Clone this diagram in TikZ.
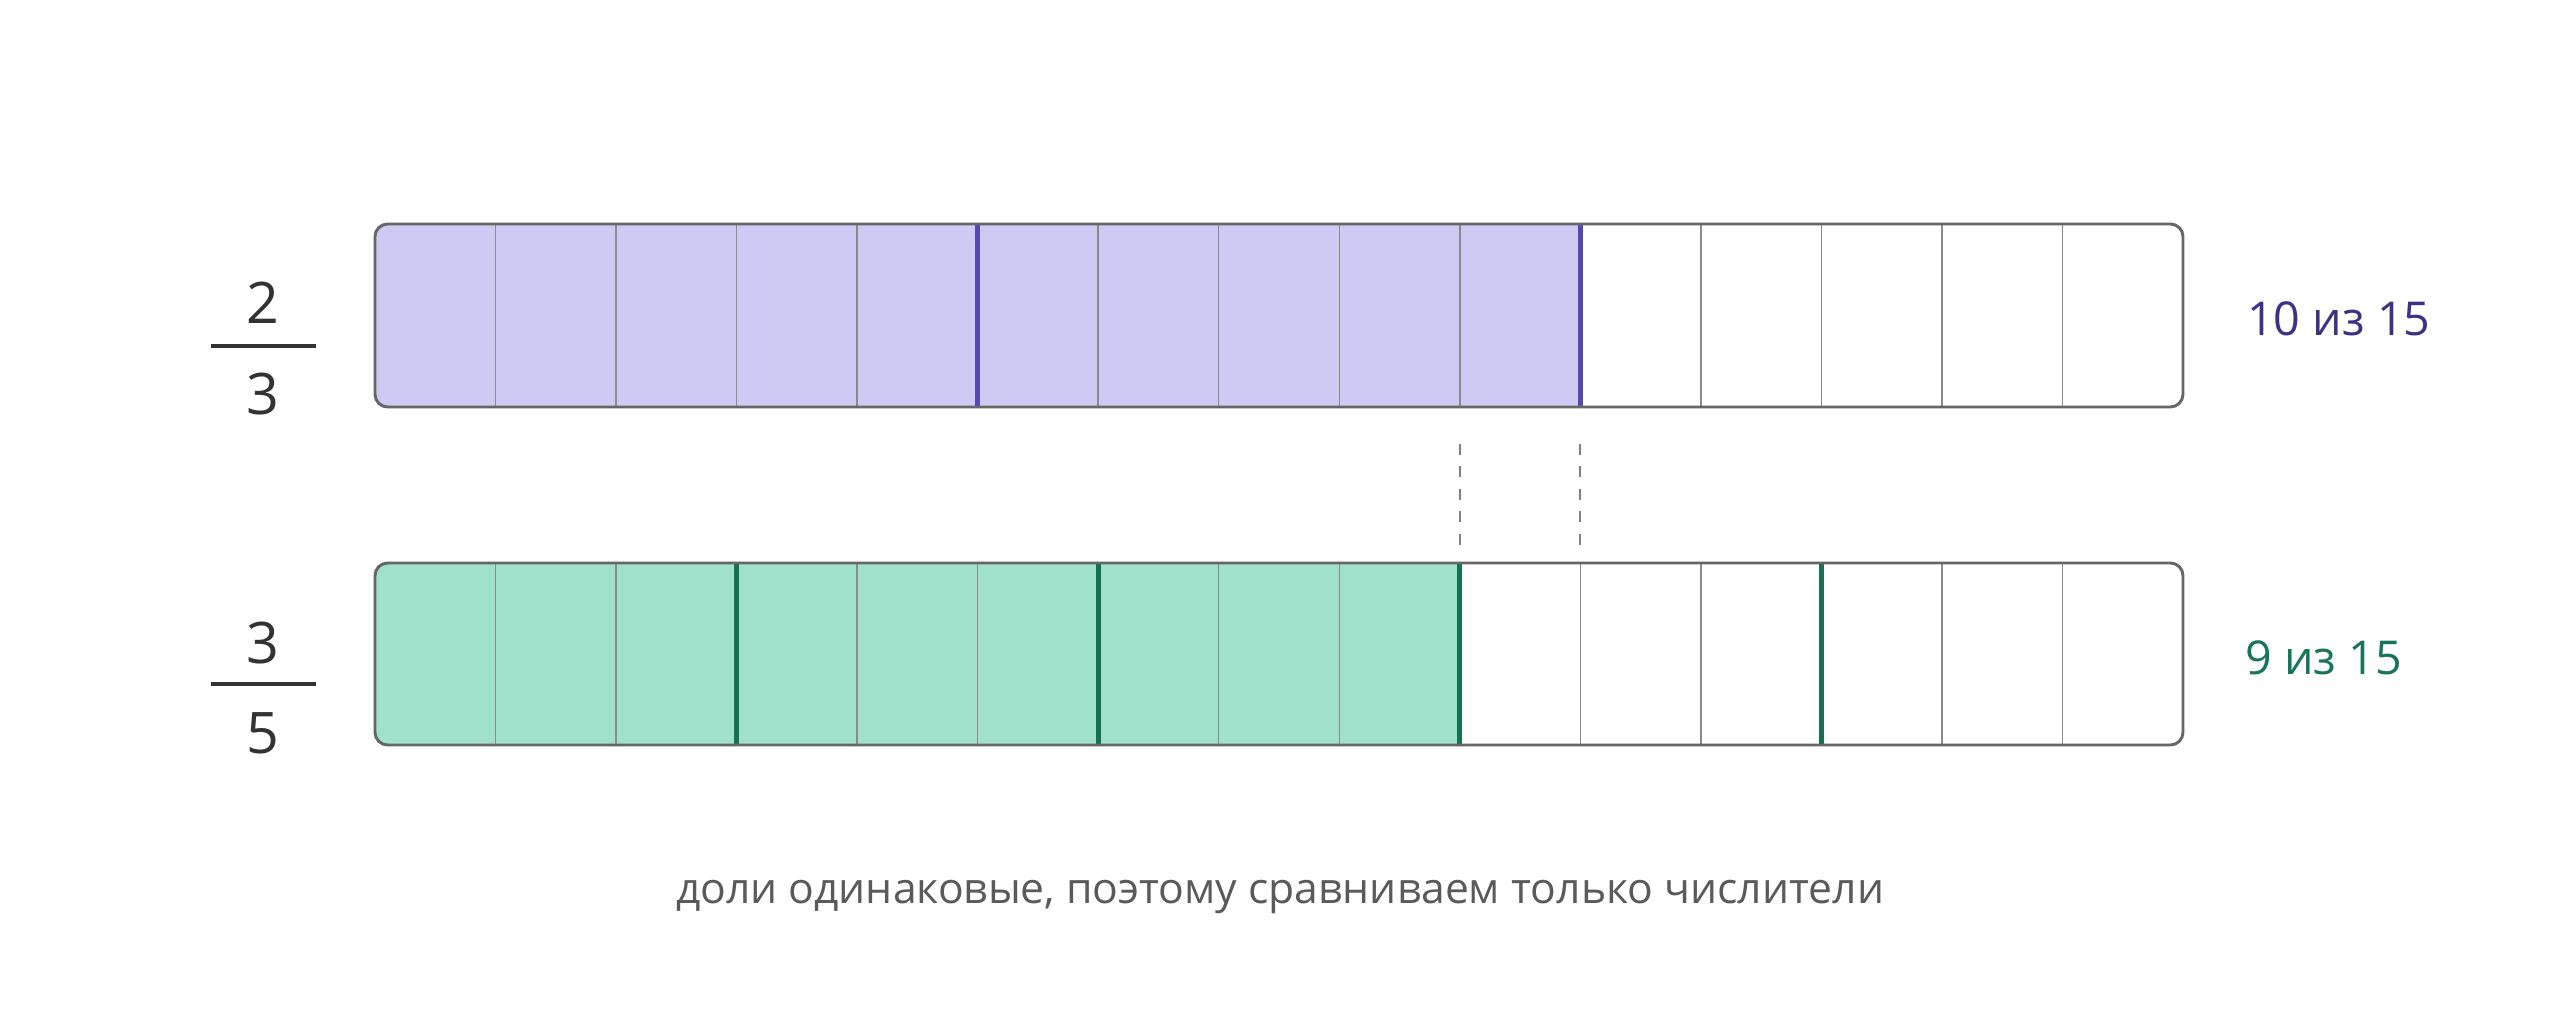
\documentclass[tikz,border=0pt]{standalone}
\usepackage{fontspec}
\setmainfont{Open Sans}
\definecolor{framegray}{HTML}{666666}
\definecolor{divgray}{HTML}{8A8A8A}
\definecolor{purplefill}{HTML}{CDCBF3}
\definecolor{greenfill}{HTML}{A0E1CB}
\definecolor{purpleline}{HTML}{5548B2}
\definecolor{greenline}{HTML}{17704F}
\definecolor{purpletext}{HTML}{3D3187}
\definecolor{greentext}{HTML}{17755A}
\definecolor{darktext}{HTML}{333333}
\definecolor{capgray}{HTML}{5A5A5A}
\begin{document}
\begin{tikzpicture}[x=0.75pt,y=-0.75pt,
  frame/.style={draw=framegray,line width=2.2pt,rounded corners=9.5pt},
  divider/.style={draw=divgray,line width=1.1pt},
  purplediv/.style={draw=purpleline,line width=3.6pt},
  greendiv/.style={draw=greenline,line width=3.6pt},
  guide/.style={draw=gray,line width=1.5pt,dash pattern=on 8.25pt off 8.6pt},
  digit/.style={inner sep=0pt,anchor=base,text=darktext,font=\fontsize{43}{50}\selectfont},
  fracbar/.style={draw=darktext,line width=3.3pt},
  countlabel/.style={inner sep=0pt,anchor=base west,font=\fontsize{35}{42}\selectfont},
  caption/.style={inner sep=0pt,anchor=base,text=capgray,font=\fontsize{32}{38}\selectfont}
]
\useasboundingbox (0,0) rectangle (2560,1016);
\def\cw{120.533}
% ---- top bar (2/3) ----
\begin{scope}
  \clip[rounded corners=9.5pt] (375,224) rectangle (2183,407);
  \fill[purplefill] (375,224) rectangle (1580,407);
\end{scope}
\fill[purplefill] (377,226) rectangle (420,405);
\foreach \i in {1,...,14} {
  \draw[divider] ({375+\i*\cw},224) -- ({375+\i*\cw},407);
}
\foreach \i in {5,10} {
  \draw[purplediv] ({375+\i*\cw},224) -- ({375+\i*\cw},407);
}
\draw[frame] (375,224) rectangle (2183,407);
% ---- bottom bar (3/5) ----
\begin{scope}
  \clip[rounded corners=9.5pt] (375,563) rectangle (2183,745);
  \fill[greenfill] (375,563) rectangle (1459.8,745);
\end{scope}
\fill[greenfill] (377,565) rectangle (420,743);
\foreach \i in {1,...,14} {
  \draw[divider] ({375+\i*\cw},563) -- ({375+\i*\cw},745);
}
\foreach \i in {3,6,9,12} {
  \draw[greendiv] ({375+\i*\cw},563) -- ({375+\i*\cw},745);
}
\draw[frame] (375,563) rectangle (2183,745);
% ---- dashed guides ----
\coordinate (g1a) at ({375+9*\cw},444);
\coordinate (g1b) at ({375+9*\cw},546);
\coordinate (g2a) at ({375+10*\cw},444);
\coordinate (g2b) at ({375+10*\cw},546);
\draw[guide] (g1a) -- (g1b);
\draw[guide] (g2a) -- (g2b);
% ---- fractions ----
\node[digit] (n1) at (263,324) {2};
\coordinate (b1l) at (211,346);
\coordinate (b1r) at (316,346);
\draw[fracbar] (b1l) -- (b1r);
\node[digit] (d1) at (263,414) {3};
\node[digit] (n2) at (263,663) {3};
\coordinate (b2l) at (211,684);
\coordinate (b2r) at (316,684);
\draw[fracbar] (b2l) -- (b2r);
\node[digit] (d2) at (263,753) {5};
% ---- counts ----
\node[countlabel,text=purpletext] (c1) at (2247,335) {10 из 15};
\node[countlabel,text=greentext] (c2) at (2245,674) {9 из 15};
% ---- caption ----
\node[caption] (cap) at (1280,903) {доли одинаковые, поэтому сравниваем только числители};
\end{tikzpicture}
\end{document}
